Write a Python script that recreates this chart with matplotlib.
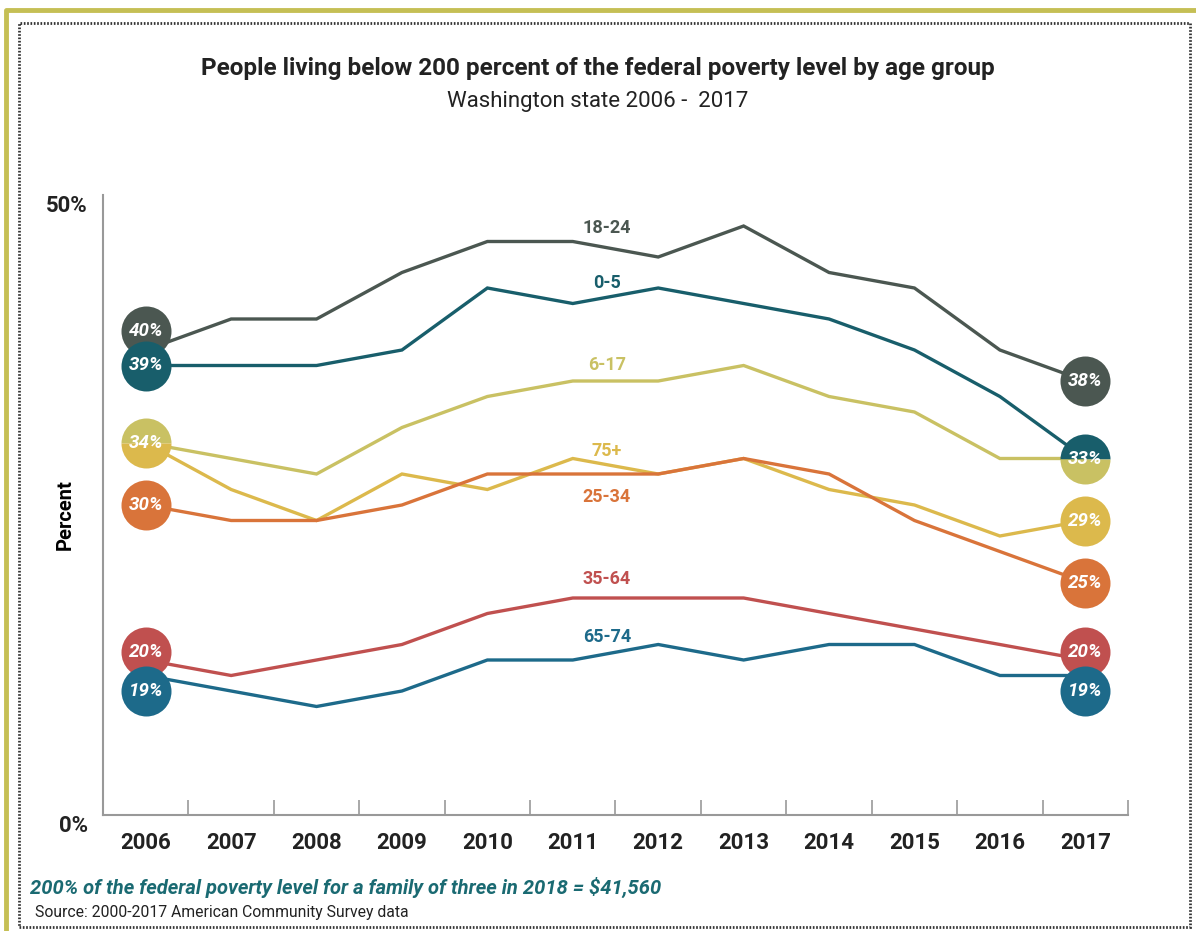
import matplotlib
matplotlib.use('Agg')
import matplotlib.pyplot as plt
from matplotlib.patches import Rectangle
from matplotlib.transforms import ScaledTranslation

years = list(range(2006, 2018))
age_groups = ['18-24', '0-5', '6-17', '75+', '25-34', '35-64', '65-74']

pct_18_24 = [40, 42, 42, 45, 47, 47, 46, 48, 45, 44, 40, 38]
pct_0_5 = [39, 39, 39, 40, 44, 43, 44, 43, 42, 40, 37, 33]
pct_6_17 = [34, 33, 32, 35, 37, 38, 38, 39, 37, 36, 33, 33]
pct_75_plus = [34, 31, 29, 32, 31, 33, 32, 33, 31, 30, 28, 29]
pct_25_34 = [30, 29, 29, 30, 32, 32, 32, 33, 32, 29, 27, 25]
pct_35_64 = [20, 19, 20, 21, 23, 24, 24, 24, 23, 22, 21, 20]
pct_65_74 = [19, 18, 17, 18, 20, 20, 21, 20, 21, 21, 19, 19]

series = dict(zip(age_groups, [pct_18_24, pct_0_5, pct_6_17, pct_75_plus,
                               pct_25_34, pct_35_64, pct_65_74]))

colors = {'18-24': '#4b5751', '0-5': '#185e6b', '6-17': '#c9c163',
          '75+': '#dcb94c', '25-34': '#d9743a', '35-64': '#c0504f',
          '65-74': '#1d6a8a'}

# where the group names sit (layout only)
name_pos = {'18-24': 47.9, '0-5': 44.3, '6-17': 39.0, '75+': 33.5,
            '25-34': 30.5, '35-64': 25.2, '65-74': 21.5}
# end circles pushed apart so they don't cover each other
nudge = {('18-24', 0): 1.25, ('35-64', 0): 0.5, ('65-74', 0): -1.0,
         ('35-64', -1): 0.5, ('65-74', -1): -1.0}

plt.rcParams['font.family'] = ['Roboto', 'DejaVu Sans']

fig = plt.figure(figsize=(11.96, 9.31), dpi=100)
ax = fig.add_axes([103 / 1196, 1 - 815 / 931, 1025 / 1196, 620 / 931])

for name in age_groups:
    ax.plot(years, series[name], color=colors[name], lw=2.4, zorder=3,
            solid_joinstyle='miter')
    ax.text(2011.4, name_pos[name], name, color=colors[name], fontsize=13,
            fontweight='bold', ha='center', va='center')

for end in (0, -1):
    groups = {}
    for name in age_groups:
        groups.setdefault(series[name][end], []).append(name)
    for v, names in groups.items():
        x = years[end]
        y = v + nudge.get((names[0], end), 0)
        if len(names) == 1:
            ax.plot(x, y, 'o', ms=36, color=colors[names[0]], mec='none',
                    zorder=5, clip_on=False)
        else:
            ax.plot(x, y, 'o', ms=36, fillstyle='top', mec='none',
                    markerfacecolor=colors[names[0]],
                    markerfacecoloralt=colors[names[1]],
                    zorder=5, clip_on=False)
        ax.text(x, y, f'{v}%', color='white', fontsize=13.5, fontweight='bold',
                fontstyle='italic', ha='center', va='center', zorder=6)

ax.set_xlim(2005.5, 2017.5)
ax.set_ylim(10, 50)
ax.set_xticks(years)
ax.set_xticklabels([str(y) for y in years], fontsize=16, fontweight='bold',
                   color='#222222')
ax.set_xticks([y + 0.5 for y in years], minor=True)
ax.tick_params(axis='x', which='major', length=0, pad=12)
ax.tick_params(axis='x', which='minor', direction='in', length=11,
               width=1.2, color='#999999')
ax.set_yticks([10, 50])
ax.set_yticklabels(['0%', '50%'], fontsize=16, fontweight='bold',
                   color='#222222')
ax.tick_params(axis='y', length=0, pad=11)
for lab in ax.get_yticklabels():
    lab.set_transform(lab.get_transform() +
                      ScaledTranslation(0, -9 / 100, fig.dpi_scale_trans))
ax.set_ylabel('Percent', fontsize=14.5, fontweight='bold')
ax.yaxis.set_label_coords(-0.028, 0.484)

for side in ('top', 'right'):
    ax.spines[side].set_visible(False)
for side in ('left', 'bottom'):
    ax.spines[side].set_color('#999999')
    ax.spines[side].set_linewidth(1.5)

fig.text(0.5, 1 - 68 / 931, 'People living below 200 percent of the federal '
         'poverty level by age group', ha='center', va='center',
         fontsize=17.5, fontweight='bold', color='#222222')
fig.text(0.5, 1 - 101 / 931, 'Washington state 2006 -  2017', ha='center',
         va='center', fontsize=16, color='#222222')
fig.text(30 / 1196, 1 - 887 / 931, '200% of the federal poverty level for a '
         'family of three in 2018 = $41,560', ha='left', va='center',
         fontsize=14.5, fontweight='bold', fontstyle='italic', color='#1a6a72')
fig.text(35 / 1196, 1 - 913 / 931, 'Source: 2000-2017 American Community '
         'Survey data', ha='left', va='center', fontsize=11.3, color='#222222')

# frame: olive rule on the top and left, dotted box inside
fig.add_artist(plt.Line2D([6 / 1196, 6 / 1196, 1], [0, 1 - 10 / 931, 1 - 10 / 931],
                          transform=fig.transFigure, color='#c5bf55', lw=3.5))
fig.add_artist(Rectangle((19 / 1196, 1 - 927 / 931), 1171 / 1196, 904 / 931,
                         transform=fig.transFigure, fill=False,
                         edgecolor='#333333', lw=2, linestyle=(0, (0.6, 0.6))))

fig.savefig('out.png', dpi=100)
